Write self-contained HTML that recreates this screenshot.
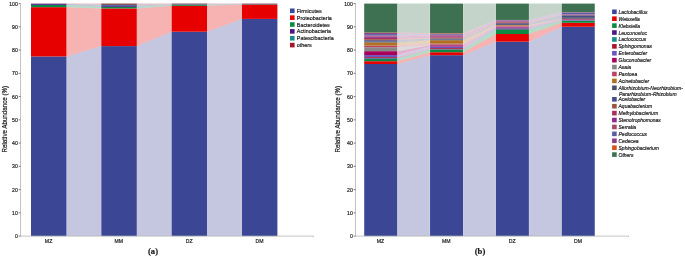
<!DOCTYPE html><html><head><meta charset="utf-8"><style>html,body{margin:0;padding:0;background:#fff}svg{display:block;will-change:transform}text{stroke:#1a1a1a;stroke-width:0.18px;font-family:"Liberation Sans",sans-serif}</style></head><body>
<svg width="685" height="257" viewBox="0 0 685 257">
<rect width="685" height="257" fill="#fff"/>
<polygon points="66.70,236.10 101.10,236.10 101.10,46.10 66.70,56.45" fill="#3b4794" fill-opacity="0.3"/>
<polygon points="137.00,236.10 171.40,236.10 171.40,31.73 137.00,46.10" fill="#3b4794" fill-opacity="0.3"/>
<polygon points="207.30,236.10 241.70,236.10 241.70,18.90 207.30,31.73" fill="#3b4794" fill-opacity="0.3"/>
<polygon points="66.70,56.45 101.10,46.10 101.10,8.44 66.70,7.16" fill="#e60000" fill-opacity="0.3"/>
<polygon points="137.00,46.10 171.40,31.73 171.40,5.81 137.00,8.44" fill="#e60000" fill-opacity="0.3"/>
<polygon points="207.30,31.73 241.70,18.90 241.70,4.48 207.30,5.81" fill="#e60000" fill-opacity="0.3"/>
<polygon points="66.70,7.16 101.10,8.44 101.10,6.81 66.70,4.83" fill="#0a8a45" fill-opacity="0.3"/>
<polygon points="137.00,8.44 171.40,5.81 171.40,4.65 137.00,6.81" fill="#0a8a45" fill-opacity="0.3"/>
<polygon points="207.30,5.81 241.70,4.48 241.70,4.13 207.30,4.65" fill="#0a8a45" fill-opacity="0.3"/>
<polygon points="66.70,4.83 101.10,6.81 101.10,5.76 66.70,3.72" fill="#4b1687" fill-opacity="0.3"/>
<polygon points="137.00,6.81 171.40,4.65 171.40,4.41 137.00,5.76" fill="#4b1687" fill-opacity="0.3"/>
<polygon points="207.30,4.65 241.70,4.13 241.70,3.83 207.30,4.41" fill="#4b1687" fill-opacity="0.3"/>
<polygon points="66.70,3.72 101.10,5.76 101.10,4.72 66.70,3.72" fill="#1a8a8a" fill-opacity="0.3"/>
<polygon points="137.00,5.76 171.40,4.41 171.40,4.18 137.00,4.72" fill="#1a8a8a" fill-opacity="0.3"/>
<polygon points="207.30,4.41 241.70,3.83 241.70,3.83 207.30,4.18" fill="#1a8a8a" fill-opacity="0.3"/>
<polygon points="66.70,3.72 101.10,4.72 101.10,3.60 66.70,3.60" fill="#a8142a" fill-opacity="0.3"/>
<polygon points="137.00,4.72 171.40,4.18 171.40,3.60 137.00,3.60" fill="#a8142a" fill-opacity="0.3"/>
<polygon points="207.30,4.18 241.70,3.83 241.70,3.60 207.30,3.60" fill="#a8142a" fill-opacity="0.3"/>
<rect x="31.00" y="56.45" width="35.50" height="179.65" fill="#3b4794"/>
<rect x="101.30" y="46.10" width="35.50" height="190.00" fill="#3b4794"/>
<rect x="171.60" y="31.73" width="35.50" height="204.37" fill="#3b4794"/>
<rect x="241.90" y="18.90" width="35.50" height="217.20" fill="#3b4794"/>
<rect x="31.00" y="7.16" width="35.50" height="49.29" fill="#e60000"/>
<rect x="101.30" y="8.44" width="35.50" height="37.66" fill="#e60000"/>
<rect x="171.60" y="5.81" width="35.50" height="25.92" fill="#e60000"/>
<rect x="241.90" y="4.48" width="35.50" height="14.42" fill="#e60000"/>
<rect x="31.00" y="4.83" width="35.50" height="2.32" fill="#0a8a45"/>
<rect x="101.30" y="6.81" width="35.50" height="1.63" fill="#0a8a45"/>
<rect x="171.60" y="4.65" width="35.50" height="1.16" fill="#0a8a45"/>
<rect x="241.90" y="4.13" width="35.50" height="0.35" fill="#0a8a45"/>
<rect x="31.00" y="3.72" width="35.50" height="1.12" fill="#4b1687"/>
<rect x="101.30" y="5.76" width="35.50" height="1.05" fill="#4b1687"/>
<rect x="171.60" y="4.41" width="35.50" height="0.23" fill="#4b1687"/>
<rect x="241.90" y="3.83" width="35.50" height="0.30" fill="#4b1687"/>
<rect x="101.30" y="4.72" width="35.50" height="1.05" fill="#2d4a90"/>
<rect x="171.60" y="4.18" width="35.50" height="0.23" fill="#2d4a90"/>
<rect x="31.00" y="3.60" width="35.50" height="0.12" fill="#70262c"/>
<rect x="101.30" y="3.60" width="35.50" height="1.12" fill="#70262c"/>
<rect x="171.60" y="3.60" width="35.50" height="0.58" fill="#70262c"/>
<rect x="241.90" y="3.60" width="35.50" height="0.23" fill="#70262c"/>
<path d="M20.5 3.6 V236.1 H313.5 v1.2" fill="none" stroke="#b4b4b4" stroke-width="0.8"/>
<path d="M18.7 236.10 H20.5" stroke="#555" stroke-width="0.8"/>
<text transform="translate(17.80 238.10) scale(0.95 1.12)" font-size="5.4" text-anchor="end" fill="#1a1a1a" >0</text>
<path d="M18.7 212.85 H20.5" stroke="#555" stroke-width="0.8"/>
<text transform="translate(17.80 214.85) scale(0.95 1.12)" font-size="5.4" text-anchor="end" fill="#1a1a1a" >10</text>
<path d="M18.7 189.60 H20.5" stroke="#555" stroke-width="0.8"/>
<text transform="translate(17.80 191.60) scale(0.95 1.12)" font-size="5.4" text-anchor="end" fill="#1a1a1a" >20</text>
<path d="M18.7 166.35 H20.5" stroke="#555" stroke-width="0.8"/>
<text transform="translate(17.80 168.35) scale(0.95 1.12)" font-size="5.4" text-anchor="end" fill="#1a1a1a" >30</text>
<path d="M18.7 143.10 H20.5" stroke="#555" stroke-width="0.8"/>
<text transform="translate(17.80 145.10) scale(0.95 1.12)" font-size="5.4" text-anchor="end" fill="#1a1a1a" >40</text>
<path d="M18.7 119.85 H20.5" stroke="#555" stroke-width="0.8"/>
<text transform="translate(17.80 121.85) scale(0.95 1.12)" font-size="5.4" text-anchor="end" fill="#1a1a1a" >50</text>
<path d="M18.7 96.60 H20.5" stroke="#555" stroke-width="0.8"/>
<text transform="translate(17.80 98.60) scale(0.95 1.12)" font-size="5.4" text-anchor="end" fill="#1a1a1a" >60</text>
<path d="M18.7 73.35 H20.5" stroke="#555" stroke-width="0.8"/>
<text transform="translate(17.80 75.35) scale(0.95 1.12)" font-size="5.4" text-anchor="end" fill="#1a1a1a" >70</text>
<path d="M18.7 50.10 H20.5" stroke="#555" stroke-width="0.8"/>
<text transform="translate(17.80 52.10) scale(0.95 1.12)" font-size="5.4" text-anchor="end" fill="#1a1a1a" >80</text>
<path d="M18.7 26.85 H20.5" stroke="#555" stroke-width="0.8"/>
<text transform="translate(17.80 28.85) scale(0.95 1.12)" font-size="5.4" text-anchor="end" fill="#1a1a1a" >90</text>
<path d="M18.7 3.60 H20.5" stroke="#555" stroke-width="0.8"/>
<text transform="translate(17.80 5.60) scale(0.95 1.12)" font-size="5.4" text-anchor="end" fill="#1a1a1a" >100</text>
<text transform="translate(48.55 242.90) scale(0.97 1.1)" font-size="5.3" text-anchor="middle" fill="#1a1a1a" >MZ</text>
<text transform="translate(118.85 242.90) scale(0.97 1.1)" font-size="5.3" text-anchor="middle" fill="#1a1a1a" >MM</text>
<text transform="translate(189.15 242.90) scale(0.97 1.1)" font-size="5.3" text-anchor="middle" fill="#1a1a1a" >DZ</text>
<text transform="translate(259.45 242.90) scale(0.97 1.1)" font-size="5.3" text-anchor="middle" fill="#1a1a1a" >DM</text>
<text transform="translate(6.6 119.2) rotate(-90) scale(1 1.06)" font-size="6.22" stroke-width="0.1" text-anchor="middle" fill="#1a1a1a">Relative Abundance (%)</text>
<text x="153" y="254.3" font-size="8.6" font-weight="bold" stroke="none" text-anchor="middle" fill="#1a1a1a" style="font-family:'Liberation Serif',serif">(a)</text>
<rect x="290" y="8.50" width="4.6" height="4.6" fill="#3b4794"/>
<text transform="translate(296.80 12.80) scale(1.0 1.08)" font-size="5.4" text-anchor="start" fill="#1a1a1a" >Firmicutes</text>
<rect x="290" y="15.36" width="4.6" height="4.6" fill="#e60000"/>
<text transform="translate(296.80 19.66) scale(1.0 1.08)" font-size="5.4" text-anchor="start" fill="#1a1a1a" >Proteobacteria</text>
<rect x="290" y="22.22" width="4.6" height="4.6" fill="#0a8a45"/>
<text transform="translate(296.80 26.52) scale(1.0 1.08)" font-size="5.4" text-anchor="start" fill="#1a1a1a" >Bacteroidetes</text>
<rect x="290" y="29.08" width="4.6" height="4.6" fill="#4b1687"/>
<text transform="translate(296.80 33.38) scale(1.0 1.08)" font-size="5.4" text-anchor="start" fill="#1a1a1a" >Actinobacteria</text>
<rect x="290" y="35.94" width="4.6" height="4.6" fill="#1a8a8a"/>
<text transform="translate(296.80 40.24) scale(1.0 1.08)" font-size="5.4" text-anchor="start" fill="#1a1a1a" >Patescibacteria</text>
<rect x="290" y="42.80" width="4.6" height="4.6" fill="#a8142a"/>
<text transform="translate(296.80 47.10) scale(1.0 1.08)" font-size="5.4" text-anchor="start" fill="#1a1a1a" >others</text>
<polygon points="397.40,236.10 429.85,236.10 429.85,55.17 397.40,64.00" fill="#3b4794" fill-opacity="0.3"/>
<polygon points="463.25,236.10 495.70,236.10 495.70,41.68 463.25,55.17" fill="#3b4794" fill-opacity="0.3"/>
<polygon points="529.10,236.10 561.55,236.10 561.55,26.73 529.10,41.68" fill="#3b4794" fill-opacity="0.3"/>
<polygon points="397.40,64.00 429.85,55.17 429.85,52.22 397.40,61.21" fill="#e60000" fill-opacity="0.3"/>
<polygon points="463.25,55.17 495.70,41.68 495.70,34.01 463.25,52.22" fill="#e60000" fill-opacity="0.3"/>
<polygon points="529.10,41.68 561.55,26.73 561.55,22.78 529.10,34.01" fill="#e60000" fill-opacity="0.3"/>
<polygon points="397.40,61.21 429.85,52.22 429.85,49.54 397.40,58.89" fill="#0a8a45" fill-opacity="0.3"/>
<polygon points="463.25,52.22 495.70,34.01 495.70,29.36 463.25,49.54" fill="#0a8a45" fill-opacity="0.3"/>
<polygon points="529.10,34.01 561.55,22.78 561.55,20.69 529.10,29.36" fill="#0a8a45" fill-opacity="0.3"/>
<polygon points="397.40,58.89 429.85,49.54 429.85,49.31 397.40,58.31" fill="#4b1687" fill-opacity="0.3"/>
<polygon points="463.25,49.54 495.70,29.36 495.70,28.43 463.25,49.31" fill="#4b1687" fill-opacity="0.3"/>
<polygon points="529.10,29.36 561.55,20.69 561.55,20.46 529.10,28.43" fill="#4b1687" fill-opacity="0.3"/>
<polygon points="397.40,58.31 429.85,49.31 429.85,49.12 397.40,57.89" fill="#1a8a8a" fill-opacity="0.3"/>
<polygon points="463.25,49.31 495.70,28.43 495.70,28.31 463.25,49.12" fill="#1a8a8a" fill-opacity="0.3"/>
<polygon points="529.10,28.43 561.55,20.46 561.55,20.39 529.10,28.31" fill="#1a8a8a" fill-opacity="0.3"/>
<polygon points="397.40,57.89 429.85,49.12 429.85,48.15 397.40,57.05" fill="#b0102a" fill-opacity="0.3"/>
<polygon points="463.25,49.12 495.70,28.31 495.70,28.20 463.25,48.15" fill="#b0102a" fill-opacity="0.3"/>
<polygon points="529.10,28.31 561.55,20.39 561.55,20.32 529.10,28.20" fill="#b0102a" fill-opacity="0.3"/>
<polygon points="397.40,57.05 429.85,48.15 429.85,46.52 397.40,55.08" fill="#6a55c0" fill-opacity="0.3"/>
<polygon points="463.25,48.15 495.70,28.20 495.70,27.50 463.25,46.52" fill="#6a55c0" fill-opacity="0.3"/>
<polygon points="529.10,28.20 561.55,20.32 561.55,19.74 529.10,27.50" fill="#6a55c0" fill-opacity="0.3"/>
<polygon points="397.40,55.08 429.85,46.52 429.85,45.24 397.40,51.17" fill="#a8005a" fill-opacity="0.3"/>
<polygon points="463.25,46.52 495.70,27.50 495.70,26.69 463.25,45.24" fill="#a8005a" fill-opacity="0.3"/>
<polygon points="529.10,27.50 561.55,19.74 561.55,19.15 529.10,26.69" fill="#a8005a" fill-opacity="0.3"/>
<polygon points="397.40,51.17 429.85,45.24 429.85,44.66 397.40,47.22" fill="#888888" fill-opacity="0.3"/>
<polygon points="463.25,45.24 495.70,26.69 495.70,26.45 463.25,44.66" fill="#888888" fill-opacity="0.3"/>
<polygon points="529.10,26.69 561.55,19.15 561.55,19.08 529.10,26.45" fill="#888888" fill-opacity="0.3"/>
<polygon points="397.40,47.22 429.85,44.66 429.85,43.61 397.40,45.54" fill="#c0405f" fill-opacity="0.3"/>
<polygon points="463.25,44.66 495.70,26.45 495.70,25.64 463.25,43.61" fill="#c0405f" fill-opacity="0.3"/>
<polygon points="529.10,26.45 561.55,19.08 561.55,18.85 529.10,25.64" fill="#c0405f" fill-opacity="0.3"/>
<polygon points="397.40,45.54 429.85,43.61 429.85,40.24 397.40,42.45" fill="#b07020" fill-opacity="0.3"/>
<polygon points="463.25,43.61 495.70,25.64 495.70,25.06 463.25,40.24" fill="#b07020" fill-opacity="0.3"/>
<polygon points="529.10,25.64 561.55,18.85 561.55,18.78 529.10,25.06" fill="#b07020" fill-opacity="0.3"/>
<polygon points="397.40,42.45 429.85,40.24 429.85,39.54 397.40,41.59" fill="#4a5266" fill-opacity="0.3"/>
<polygon points="463.25,40.24 495.70,25.06 495.70,24.13 463.25,39.54" fill="#4a5266" fill-opacity="0.3"/>
<polygon points="529.10,25.06 561.55,18.78 561.55,17.15 529.10,24.13" fill="#4a5266" fill-opacity="0.3"/>
<polygon points="397.40,41.59 429.85,39.54 429.85,38.54 397.40,40.20" fill="#454d8a" fill-opacity="0.3"/>
<polygon points="463.25,39.54 495.70,24.13 495.70,23.20 463.25,38.54" fill="#454d8a" fill-opacity="0.3"/>
<polygon points="529.10,24.13 561.55,17.15 561.55,15.34 529.10,23.20" fill="#454d8a" fill-opacity="0.3"/>
<polygon points="397.40,40.20 429.85,38.54 429.85,37.61 397.40,39.22" fill="#9a5540" fill-opacity="0.3"/>
<polygon points="463.25,38.54 495.70,23.20 495.70,22.39 463.25,37.61" fill="#9a5540" fill-opacity="0.3"/>
<polygon points="529.10,23.20 561.55,15.34 561.55,15.11 529.10,22.39" fill="#9a5540" fill-opacity="0.3"/>
<polygon points="397.40,39.22 429.85,37.61 429.85,36.57 397.40,37.82" fill="#a8305a" fill-opacity="0.3"/>
<polygon points="463.25,37.61 495.70,22.39 495.70,21.69 463.25,36.57" fill="#a8305a" fill-opacity="0.3"/>
<polygon points="529.10,22.39 561.55,15.11 561.55,14.88 529.10,21.69" fill="#a8305a" fill-opacity="0.3"/>
<polygon points="397.40,37.82 429.85,36.57 429.85,35.52 397.40,36.43" fill="#8a2a8a" fill-opacity="0.3"/>
<polygon points="463.25,36.57 495.70,21.69 495.70,21.22 463.25,35.52" fill="#8a2a8a" fill-opacity="0.3"/>
<polygon points="529.10,21.69 561.55,14.88 561.55,14.64 529.10,21.22" fill="#8a2a8a" fill-opacity="0.3"/>
<polygon points="397.40,36.43 429.85,35.52 429.85,34.82 397.40,35.50" fill="#a84868" fill-opacity="0.3"/>
<polygon points="463.25,35.52 495.70,21.22 495.70,20.76 463.25,34.82" fill="#a84868" fill-opacity="0.3"/>
<polygon points="529.10,21.22 561.55,14.64 561.55,14.29 529.10,20.76" fill="#a84868" fill-opacity="0.3"/>
<polygon points="397.40,35.50 429.85,34.82 429.85,34.13 397.40,34.10" fill="#5a5fa5" fill-opacity="0.3"/>
<polygon points="463.25,34.82 495.70,20.76 495.70,20.29 463.25,34.13" fill="#5a5fa5" fill-opacity="0.3"/>
<polygon points="529.10,20.76 561.55,14.29 561.55,12.55 529.10,20.29" fill="#5a5fa5" fill-opacity="0.3"/>
<polygon points="397.40,34.10 429.85,34.13 429.85,33.66 397.40,33.06" fill="#8a3a8c" fill-opacity="0.3"/>
<polygon points="463.25,34.13 495.70,20.29 495.70,20.06 463.25,33.66" fill="#8a3a8c" fill-opacity="0.3"/>
<polygon points="529.10,20.29 561.55,12.55 561.55,12.20 529.10,20.06" fill="#8a3a8c" fill-opacity="0.3"/>
<polygon points="397.40,33.06 429.85,33.66 429.85,33.20 397.40,32.59" fill="#d8501a" fill-opacity="0.3"/>
<polygon points="463.25,33.66 495.70,20.06 495.70,19.94 463.25,33.20" fill="#d8501a" fill-opacity="0.3"/>
<polygon points="529.10,20.06 561.55,12.20 561.55,12.09 529.10,19.94" fill="#d8501a" fill-opacity="0.3"/>
<polygon points="397.40,32.59 429.85,33.20 429.85,3.60 397.40,3.60" fill="#3e7152" fill-opacity="0.3"/>
<polygon points="463.25,33.20 495.70,19.94 495.70,3.60 463.25,3.60" fill="#3e7152" fill-opacity="0.3"/>
<polygon points="529.10,19.94 561.55,12.09 561.55,3.60 529.10,3.60" fill="#3e7152" fill-opacity="0.3"/>
<rect x="364.20" y="64.00" width="33.00" height="172.10" fill="#3b4794"/>
<rect x="430.05" y="55.17" width="33.00" height="180.93" fill="#3b4794"/>
<rect x="495.90" y="41.68" width="33.00" height="194.42" fill="#3b4794"/>
<rect x="561.75" y="26.73" width="33.00" height="209.37" fill="#3b4794"/>
<rect x="364.20" y="61.21" width="33.00" height="2.79" fill="#e60000"/>
<rect x="430.05" y="52.22" width="33.00" height="2.95" fill="#e60000"/>
<rect x="495.90" y="34.01" width="33.00" height="7.67" fill="#e60000"/>
<rect x="561.75" y="22.78" width="33.00" height="3.95" fill="#e60000"/>
<rect x="364.20" y="58.89" width="33.00" height="2.32" fill="#0a8a45"/>
<rect x="430.05" y="49.54" width="33.00" height="2.67" fill="#0a8a45"/>
<rect x="495.90" y="29.36" width="33.00" height="4.65" fill="#0a8a45"/>
<rect x="561.75" y="20.69" width="33.00" height="2.09" fill="#0a8a45"/>
<rect x="364.20" y="58.31" width="33.00" height="0.58" fill="#4b1687"/>
<rect x="430.05" y="49.31" width="33.00" height="0.23" fill="#4b1687"/>
<rect x="495.90" y="28.43" width="33.00" height="0.93" fill="#4b1687"/>
<rect x="561.75" y="20.46" width="33.00" height="0.23" fill="#4b1687"/>
<rect x="364.20" y="57.89" width="33.00" height="0.42" fill="#1a8a8a"/>
<rect x="430.05" y="49.12" width="33.00" height="0.19" fill="#1a8a8a"/>
<rect x="495.90" y="28.31" width="33.00" height="0.12" fill="#1a8a8a"/>
<rect x="561.75" y="20.39" width="33.00" height="0.07" fill="#1a8a8a"/>
<rect x="364.20" y="57.05" width="33.00" height="0.84" fill="#b0102a"/>
<rect x="430.05" y="48.15" width="33.00" height="0.98" fill="#b0102a"/>
<rect x="495.90" y="28.20" width="33.00" height="0.12" fill="#b0102a"/>
<rect x="561.75" y="20.32" width="33.00" height="0.07" fill="#b0102a"/>
<rect x="364.20" y="55.08" width="33.00" height="1.98" fill="#6a55c0"/>
<rect x="430.05" y="46.52" width="33.00" height="1.63" fill="#6a55c0"/>
<rect x="495.90" y="27.50" width="33.00" height="0.70" fill="#6a55c0"/>
<rect x="561.75" y="19.74" width="33.00" height="0.58" fill="#6a55c0"/>
<rect x="364.20" y="51.17" width="33.00" height="3.91" fill="#a8005a"/>
<rect x="430.05" y="45.24" width="33.00" height="1.28" fill="#a8005a"/>
<rect x="495.90" y="26.69" width="33.00" height="0.81" fill="#a8005a"/>
<rect x="561.75" y="19.15" width="33.00" height="0.58" fill="#a8005a"/>
<rect x="364.20" y="47.22" width="33.00" height="3.95" fill="#888888"/>
<rect x="430.05" y="44.66" width="33.00" height="0.58" fill="#888888"/>
<rect x="495.90" y="26.45" width="33.00" height="0.23" fill="#888888"/>
<rect x="561.75" y="19.08" width="33.00" height="0.07" fill="#888888"/>
<rect x="364.20" y="45.54" width="33.00" height="1.67" fill="#c0405f"/>
<rect x="430.05" y="43.61" width="33.00" height="1.05" fill="#c0405f"/>
<rect x="495.90" y="25.64" width="33.00" height="0.81" fill="#c0405f"/>
<rect x="561.75" y="18.85" width="33.00" height="0.23" fill="#c0405f"/>
<rect x="364.20" y="42.45" width="33.00" height="3.09" fill="#b07020"/>
<rect x="430.05" y="40.24" width="33.00" height="3.37" fill="#b07020"/>
<rect x="495.90" y="25.06" width="33.00" height="0.58" fill="#b07020"/>
<rect x="561.75" y="18.78" width="33.00" height="0.07" fill="#b07020"/>
<rect x="364.20" y="41.59" width="33.00" height="0.86" fill="#4a5266"/>
<rect x="430.05" y="39.54" width="33.00" height="0.70" fill="#4a5266"/>
<rect x="495.90" y="24.13" width="33.00" height="0.93" fill="#4a5266"/>
<rect x="561.75" y="17.15" width="33.00" height="1.63" fill="#4a5266"/>
<rect x="364.20" y="40.20" width="33.00" height="1.39" fill="#454d8a"/>
<rect x="430.05" y="38.54" width="33.00" height="1.00" fill="#454d8a"/>
<rect x="495.90" y="23.20" width="33.00" height="0.93" fill="#454d8a"/>
<rect x="561.75" y="15.34" width="33.00" height="1.81" fill="#454d8a"/>
<rect x="364.20" y="39.22" width="33.00" height="0.98" fill="#9a5540"/>
<rect x="430.05" y="37.61" width="33.00" height="0.93" fill="#9a5540"/>
<rect x="495.90" y="22.39" width="33.00" height="0.81" fill="#9a5540"/>
<rect x="561.75" y="15.11" width="33.00" height="0.23" fill="#9a5540"/>
<rect x="364.20" y="37.82" width="33.00" height="1.39" fill="#a8305a"/>
<rect x="430.05" y="36.57" width="33.00" height="1.05" fill="#a8305a"/>
<rect x="495.90" y="21.69" width="33.00" height="0.70" fill="#a8305a"/>
<rect x="561.75" y="14.88" width="33.00" height="0.23" fill="#a8305a"/>
<rect x="364.20" y="36.43" width="33.00" height="1.39" fill="#8a2a8a"/>
<rect x="430.05" y="35.52" width="33.00" height="1.05" fill="#8a2a8a"/>
<rect x="495.90" y="21.22" width="33.00" height="0.47" fill="#8a2a8a"/>
<rect x="561.75" y="14.64" width="33.00" height="0.23" fill="#8a2a8a"/>
<rect x="364.20" y="35.50" width="33.00" height="0.93" fill="#a84868"/>
<rect x="430.05" y="34.82" width="33.00" height="0.70" fill="#a84868"/>
<rect x="495.90" y="20.76" width="33.00" height="0.47" fill="#a84868"/>
<rect x="561.75" y="14.29" width="33.00" height="0.35" fill="#a84868"/>
<rect x="364.20" y="34.10" width="33.00" height="1.39" fill="#5a5fa5"/>
<rect x="430.05" y="34.13" width="33.00" height="0.70" fill="#5a5fa5"/>
<rect x="495.90" y="20.29" width="33.00" height="0.47" fill="#5a5fa5"/>
<rect x="561.75" y="12.55" width="33.00" height="1.74" fill="#5a5fa5"/>
<rect x="364.20" y="33.06" width="33.00" height="1.05" fill="#8a3a8c"/>
<rect x="430.05" y="33.66" width="33.00" height="0.47" fill="#8a3a8c"/>
<rect x="495.90" y="20.06" width="33.00" height="0.23" fill="#8a3a8c"/>
<rect x="561.75" y="12.20" width="33.00" height="0.35" fill="#8a3a8c"/>
<rect x="364.20" y="32.59" width="33.00" height="0.47" fill="#d8501a"/>
<rect x="430.05" y="33.20" width="33.00" height="0.47" fill="#d8501a"/>
<rect x="495.90" y="19.94" width="33.00" height="0.12" fill="#d8501a"/>
<rect x="561.75" y="12.09" width="33.00" height="0.12" fill="#d8501a"/>
<rect x="364.20" y="3.60" width="33.00" height="28.99" fill="#3e7152"/>
<rect x="430.05" y="3.60" width="33.00" height="29.60" fill="#3e7152"/>
<rect x="495.90" y="3.60" width="33.00" height="16.34" fill="#3e7152"/>
<rect x="561.75" y="3.60" width="33.00" height="8.49" fill="#3e7152"/>
<path d="M355.5 3.6 V236.1 H628.5 v1.2" fill="none" stroke="#b4b4b4" stroke-width="0.8"/>
<path d="M353.7 236.10 H355.5" stroke="#555" stroke-width="0.8"/>
<text transform="translate(352.80 238.10) scale(0.95 1.12)" font-size="5.4" text-anchor="end" fill="#1a1a1a" >0</text>
<path d="M353.7 212.85 H355.5" stroke="#555" stroke-width="0.8"/>
<text transform="translate(352.80 214.85) scale(0.95 1.12)" font-size="5.4" text-anchor="end" fill="#1a1a1a" >10</text>
<path d="M353.7 189.60 H355.5" stroke="#555" stroke-width="0.8"/>
<text transform="translate(352.80 191.60) scale(0.95 1.12)" font-size="5.4" text-anchor="end" fill="#1a1a1a" >20</text>
<path d="M353.7 166.35 H355.5" stroke="#555" stroke-width="0.8"/>
<text transform="translate(352.80 168.35) scale(0.95 1.12)" font-size="5.4" text-anchor="end" fill="#1a1a1a" >30</text>
<path d="M353.7 143.10 H355.5" stroke="#555" stroke-width="0.8"/>
<text transform="translate(352.80 145.10) scale(0.95 1.12)" font-size="5.4" text-anchor="end" fill="#1a1a1a" >40</text>
<path d="M353.7 119.85 H355.5" stroke="#555" stroke-width="0.8"/>
<text transform="translate(352.80 121.85) scale(0.95 1.12)" font-size="5.4" text-anchor="end" fill="#1a1a1a" >50</text>
<path d="M353.7 96.60 H355.5" stroke="#555" stroke-width="0.8"/>
<text transform="translate(352.80 98.60) scale(0.95 1.12)" font-size="5.4" text-anchor="end" fill="#1a1a1a" >60</text>
<path d="M353.7 73.35 H355.5" stroke="#555" stroke-width="0.8"/>
<text transform="translate(352.80 75.35) scale(0.95 1.12)" font-size="5.4" text-anchor="end" fill="#1a1a1a" >70</text>
<path d="M353.7 50.10 H355.5" stroke="#555" stroke-width="0.8"/>
<text transform="translate(352.80 52.10) scale(0.95 1.12)" font-size="5.4" text-anchor="end" fill="#1a1a1a" >80</text>
<path d="M353.7 26.85 H355.5" stroke="#555" stroke-width="0.8"/>
<text transform="translate(352.80 28.85) scale(0.95 1.12)" font-size="5.4" text-anchor="end" fill="#1a1a1a" >90</text>
<path d="M353.7 3.60 H355.5" stroke="#555" stroke-width="0.8"/>
<text transform="translate(352.80 5.60) scale(0.95 1.12)" font-size="5.4" text-anchor="end" fill="#1a1a1a" >100</text>
<text transform="translate(380.50 242.90) scale(0.97 1.1)" font-size="5.3" text-anchor="middle" fill="#1a1a1a" >MZ</text>
<text transform="translate(446.35 242.90) scale(0.97 1.1)" font-size="5.3" text-anchor="middle" fill="#1a1a1a" >MM</text>
<text transform="translate(512.20 242.90) scale(0.97 1.1)" font-size="5.3" text-anchor="middle" fill="#1a1a1a" >DZ</text>
<text transform="translate(578.05 242.90) scale(0.97 1.1)" font-size="5.3" text-anchor="middle" fill="#1a1a1a" >DM</text>
<text transform="translate(340.4 119.2) rotate(-90) scale(1 1.06)" font-size="6.22" stroke-width="0.1" text-anchor="middle" fill="#1a1a1a">Relative Abundance (%)</text>
<text x="480" y="254.3" font-size="8.6" font-weight="bold" stroke="none" text-anchor="middle" fill="#1a1a1a" style="font-family:'Liberation Serif',serif">(b)</text>
<rect x="612.1" y="9.50" width="4.6" height="4.6" fill="#3b4794"/>
<text transform="translate(618.50 13.80) scale(1.0 1.08)" font-size="5.03" text-anchor="start" fill="#1a1a1a" font-style="italic" stroke-width="0.34">Lactobacillus</text>
<rect x="612.1" y="16.41" width="4.6" height="4.6" fill="#e60000"/>
<text transform="translate(618.50 20.71) scale(1.0 1.08)" font-size="5.03" text-anchor="start" fill="#1a1a1a" font-style="italic" stroke-width="0.34">Weissella</text>
<rect x="612.1" y="23.32" width="4.6" height="4.6" fill="#0a8a45"/>
<text transform="translate(618.50 27.62) scale(1.0 1.08)" font-size="5.03" text-anchor="start" fill="#1a1a1a" font-style="italic" stroke-width="0.34">Klebsiella</text>
<rect x="612.1" y="30.23" width="4.6" height="4.6" fill="#4b1687"/>
<text transform="translate(618.50 34.53) scale(1.0 1.08)" font-size="5.03" text-anchor="start" fill="#1a1a1a" font-style="italic" stroke-width="0.34">Leuconostoc</text>
<rect x="612.1" y="37.14" width="4.6" height="4.6" fill="#1a8a8a"/>
<text transform="translate(618.50 41.44) scale(1.0 1.08)" font-size="5.03" text-anchor="start" fill="#1a1a1a" font-style="italic" stroke-width="0.34">Lactococcus</text>
<rect x="612.1" y="44.05" width="4.6" height="4.6" fill="#b0102a"/>
<text transform="translate(618.50 48.35) scale(1.0 1.08)" font-size="5.03" text-anchor="start" fill="#1a1a1a" font-style="italic" stroke-width="0.34">Sphingomonas</text>
<rect x="612.1" y="50.96" width="4.6" height="4.6" fill="#6a55c0"/>
<text transform="translate(618.50 55.26) scale(1.0 1.08)" font-size="5.03" text-anchor="start" fill="#1a1a1a" font-style="italic" stroke-width="0.34">Enterobacter</text>
<rect x="612.1" y="57.87" width="4.6" height="4.6" fill="#a8005a"/>
<text transform="translate(618.50 62.17) scale(1.0 1.08)" font-size="5.03" text-anchor="start" fill="#1a1a1a" font-style="italic" stroke-width="0.34">Gluconobacter</text>
<rect x="612.1" y="64.78" width="4.6" height="4.6" fill="#888888"/>
<text transform="translate(618.50 69.08) scale(1.0 1.08)" font-size="5.03" text-anchor="start" fill="#1a1a1a" font-style="italic" stroke-width="0.34">Asaia</text>
<rect x="612.1" y="71.69" width="4.6" height="4.6" fill="#c0405f"/>
<text transform="translate(618.50 75.99) scale(1.0 1.08)" font-size="5.03" text-anchor="start" fill="#1a1a1a" font-style="italic" stroke-width="0.34">Pantoea</text>
<rect x="612.1" y="78.60" width="4.6" height="4.6" fill="#b07020"/>
<text transform="translate(618.50 82.90) scale(1.0 1.08)" font-size="5.03" text-anchor="start" fill="#1a1a1a" font-style="italic" stroke-width="0.34">Acinetobacter</text>
<rect x="612.1" y="85.51" width="4.6" height="4.6" fill="#4a5266"/>
<text transform="translate(618.50 89.81) scale(1.0 1.08)" font-size="5.03" text-anchor="start" fill="#1a1a1a" font-style="italic" stroke-width="0.34">Allorhizobium-Neorhizobium-</text>
<text transform="translate(618.90 96.21) scale(1.0 1.08)" font-size="5.03" text-anchor="start" fill="#1a1a1a" font-style="italic" stroke-width="0.34">Pararhizobium-Rhizobium</text>
<rect x="612.1" y="97.01" width="4.6" height="4.6" fill="#454d8a"/>
<text transform="translate(618.50 101.31) scale(1.0 1.08)" font-size="5.03" text-anchor="start" fill="#1a1a1a" font-style="italic" stroke-width="0.34">Acetobacter</text>
<rect x="612.1" y="103.92" width="4.6" height="4.6" fill="#9a5540"/>
<text transform="translate(618.50 108.22) scale(1.0 1.08)" font-size="5.03" text-anchor="start" fill="#1a1a1a" font-style="italic" stroke-width="0.34">Aquabacterium</text>
<rect x="612.1" y="110.83" width="4.6" height="4.6" fill="#a8305a"/>
<text transform="translate(618.50 115.13) scale(1.0 1.08)" font-size="5.03" text-anchor="start" fill="#1a1a1a" font-style="italic" stroke-width="0.34">Methylobacterium</text>
<rect x="612.1" y="117.74" width="4.6" height="4.6" fill="#8a2a8a"/>
<text transform="translate(618.50 122.04) scale(1.0 1.08)" font-size="5.03" text-anchor="start" fill="#1a1a1a" font-style="italic" stroke-width="0.34">Stenotrophomonas</text>
<rect x="612.1" y="124.65" width="4.6" height="4.6" fill="#a84868"/>
<text transform="translate(618.50 128.95) scale(1.0 1.08)" font-size="5.03" text-anchor="start" fill="#1a1a1a" font-style="italic" stroke-width="0.34">Serratia</text>
<rect x="612.1" y="131.56" width="4.6" height="4.6" fill="#5a5fa5"/>
<text transform="translate(618.50 135.86) scale(1.0 1.08)" font-size="5.03" text-anchor="start" fill="#1a1a1a" font-style="italic" stroke-width="0.34">Pediococcus</text>
<rect x="612.1" y="138.47" width="4.6" height="4.6" fill="#8a3a8c"/>
<text transform="translate(618.50 142.77) scale(1.0 1.08)" font-size="5.03" text-anchor="start" fill="#1a1a1a" font-style="italic" stroke-width="0.34">Cedecea</text>
<rect x="612.1" y="145.38" width="4.6" height="4.6" fill="#d8501a"/>
<text transform="translate(618.50 149.68) scale(1.0 1.08)" font-size="5.03" text-anchor="start" fill="#1a1a1a" font-style="italic" stroke-width="0.34">Sphingobacterium</text>
<rect x="612.1" y="152.29" width="4.6" height="4.6" fill="#3e7152"/>
<text transform="translate(618.50 156.59) scale(1.0 1.08)" font-size="5.03" text-anchor="start" fill="#1a1a1a" font-style="italic" stroke-width="0.34">Others</text>
</svg></body></html>
